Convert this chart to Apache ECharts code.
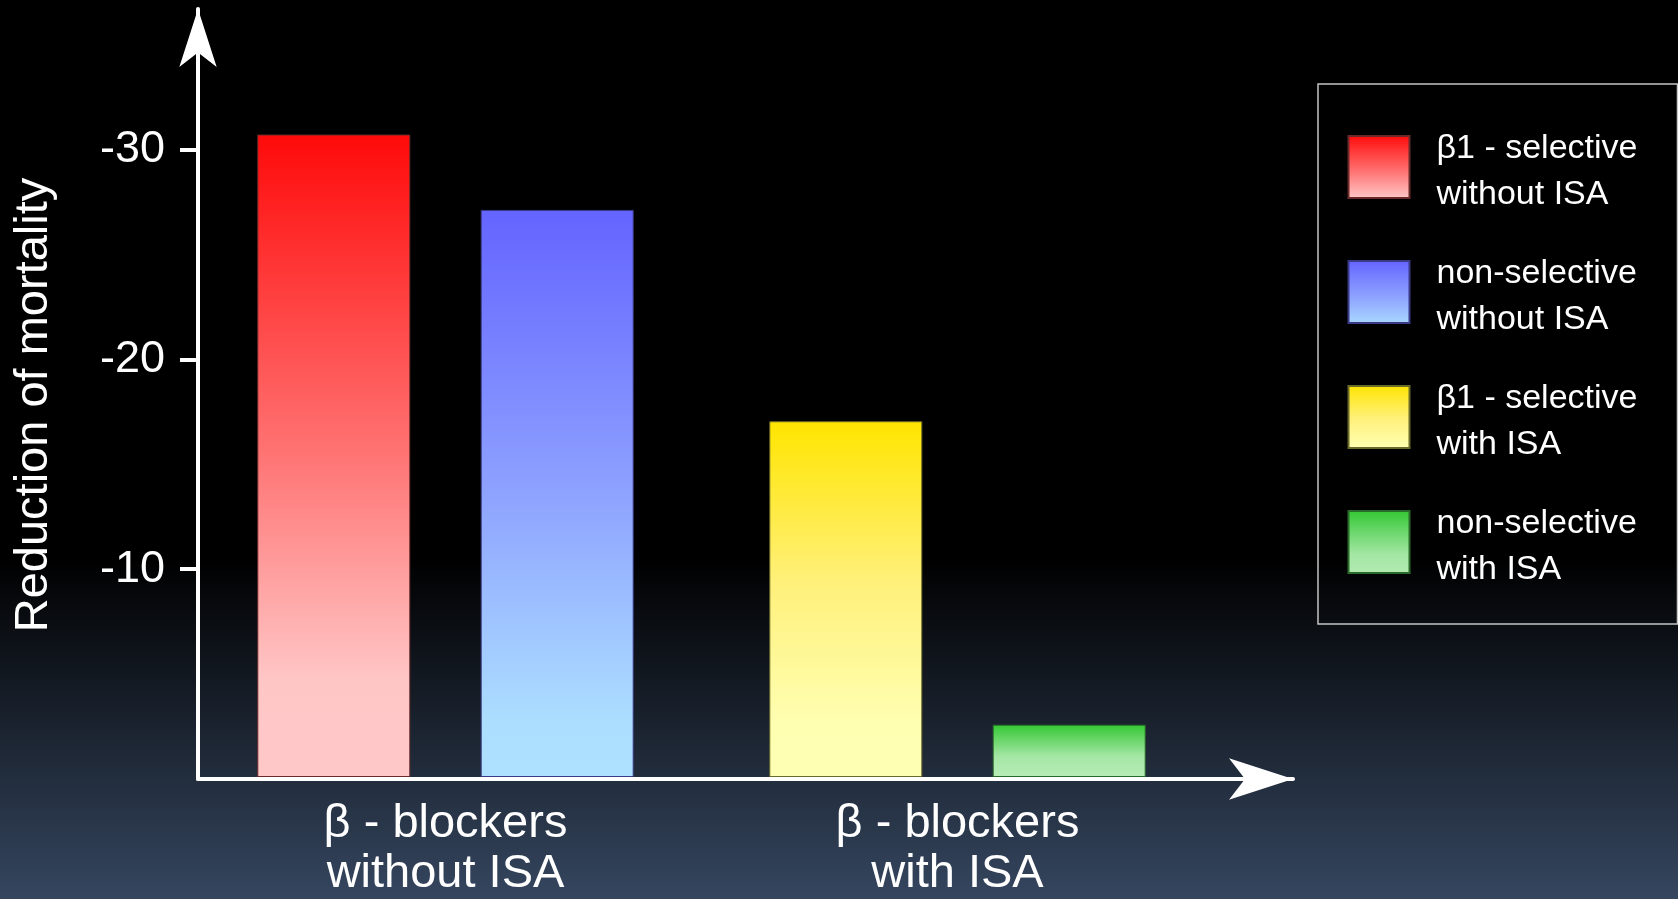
<!DOCTYPE html>
<html>
<head>
<meta charset="utf-8">
<script src="https://cdn.jsdelivr.net/npm/echarts@6/dist/echarts.min.js"></script>
<style>
  html, body { margin: 0; padding: 0; background: #000; }
  #chart { width: 1678px; height: 899px; }
</style>
</head>
<body>
<div id="chart"></div>
<script>
// Category groups on the x axis
const categories = ['β - blockers\nwithout ISA', 'β - blockers\nwith ISA'];
// Series names shown in the legend
const seriesNames = [
  'β1 - selective\nwithout ISA',
  'non-selective\nwithout ISA',
  'β1 - selective\nwith ISA',
  'non-selective\nwith ISA'
];
// Change in mortality (%), one value per category group
const beta1NoIsa = [-30.7, null];
const nonSelNoIsa = [-27.1, null];
const beta1Isa = [null, -17.0];
const nonSelIsa = [null, -2.5];
// Labelled ticks on the value axis
const yTicks = [-30, -20, -10];
const yMin = -36.7;
const yMax = 0;

const FONT = "'Liberation Sans', Arial, Helvetica, sans-serif";

function vGrad(stops) {
  return {
    type: 'linear', x: 0, y: 0, x2: 0, y2: 1,
    colorStops: stops.map(s => ({ offset: s[0], color: s[1] }))
  };
}

const palette = [
  vGrad([[0, '#ff0a0a'], [0.5, '#ff7474'], [0.85, '#ffc6c6'], [1, '#ffc8c8']]),
  vGrad([[0, '#6464ff'], [0.5, '#8ea2ff'], [0.9, '#acdeff'], [1, '#aee0ff']]),
  vGrad([[0, '#ffe500'], [0.45, '#fff07a'], [0.85, '#ffffb2'], [1, '#ffffb4']]),
  vGrad([[0, '#33c833'], [0.6, '#a4e6a4'], [1, '#b8ecb8']])
];
const borders = ['#6a2a2a', '#3a3a86', '#6a6a2a', '#2a6a2a'];
const values = [beta1NoIsa, nonSelNoIsa, beta1Isa, nonSelIsa];
const stacks = ['first', 'second', 'first', 'second'];

// Square legend swatch sitting in the upper part of a slightly taller icon box,
// so the two-line label is centred a little below the swatch
const swatchIcon = 'path://M0,0L61,0L61,62L0,62Z M0,72L0.01,72';

const chart = echarts.init(document.getElementById('chart'));

chart.setOption({
  backgroundColor: vGrad([[0, '#000000'], [0.62, '#000000'], [1, '#35465f']]),
  animation: false,
  textStyle: { fontFamily: FONT },
  grid: [
    // frame with the arrowed axes
    { left: 198, right: 385, top: 9, bottom: 120 },
    // plotting area for the grouped bars
    { left: 189.5, right: 464.5, top: 9, bottom: 120 }
  ],
  legend: {
    data: seriesNames,
    orient: 'vertical',
    left: 1318,
    top: 84,
    padding: [42, 40, 31, 29.5],
    itemWidth: 61,
    itemHeight: 72,
    itemGap: 33,
    icon: swatchIcon,
    selectedMode: false,
    borderColor: '#c4c4c4',
    borderWidth: 1.5,
    textStyle: {
      color: '#ffffff', fontSize: 34, lineHeight: 46, fontFamily: FONT,
      padding: [0, 0, 0, 22]
    }
  },
  xAxis: [
    {
      gridIndex: 0, type: 'value', min: 0, max: 1, z: 5,
      axisLine: {
        show: true, onZero: false,
        symbol: ['none', 'arrow'], symbolSize: [31, 64],
        lineStyle: { color: '#ffffff', width: 4 }
      },
      axisTick: { show: false },
      axisLabel: { show: false },
      splitLine: { show: false }
    },
    {
      gridIndex: 1, type: 'category', data: categories,
      axisLine: { show: false },
      axisTick: { show: false },
      axisLabel: {
        interval: 0, color: '#ffffff', fontSize: 47, lineHeight: 50,
        margin: 22, fontFamily: FONT
      },
      splitLine: { show: false }
    }
  ],
  yAxis: [
    {
      gridIndex: 0, type: 'value', inverse: true, min: yMin, max: yMax, z: 5,
      name: 'Reduction of mortality',
      nameLocation: 'middle',
      nameGap: 140,
      nameTextStyle: {
        color: '#ffffff', fontSize: 47, fontFamily: FONT,
        padding: [0, 22, 0, 0]
      },
      axisLine: {
        show: true, onZero: false,
        symbol: ['none', 'arrow'], symbolSize: [28, 58],
        lineStyle: { color: '#ffffff', width: 4 }
      },
      axisTick: {
        show: true, customValues: yTicks, length: 18,
        lineStyle: { color: '#ffffff', width: 4 }
      },
      axisLabel: {
        customValues: yTicks, color: '#ffffff', fontSize: 45, margin: 33,
        fontFamily: FONT
      },
      splitLine: { show: false }
    },
    {
      gridIndex: 1, type: 'value', inverse: true, min: yMin, max: yMax, show: false
    }
  ],
  series: values.map((data, i) => ({
    name: seriesNames[i],
    type: 'bar',
    xAxisIndex: 1,
    yAxisIndex: 1,
    stack: stacks[i],
    barWidth: 153,
    barGap: '46%',
    data: data,
    itemStyle: { color: palette[i], borderColor: borders[i], borderWidth: 1 }
  }))
});
</script>
</body>
</html>
